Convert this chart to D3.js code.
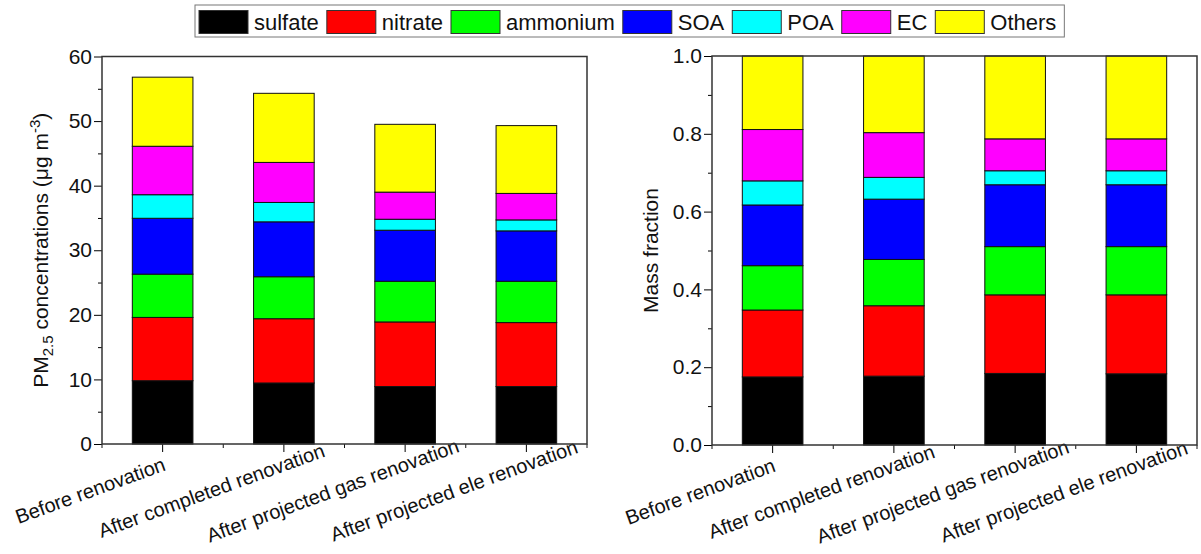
<!DOCTYPE html>
<html>
<head>
<meta charset="utf-8">
<script src="https://cdn.jsdelivr.net/npm/d3@7"></script>
<style>
  body { margin: 0; background: #fff; }
  svg { font-family: Arial, "Liberation Sans", sans-serif; }
</style>
</head>
<body>
<svg id="chart" width="1201" height="554"></svg>
<script>
// **** Data
const categories = ["Before renovation", "After completed renovation",
  "After projected gas renovation", "After projected ele renovation"];
const species = ["sulfate", "nitrate", "ammonium", "SOA", "POA", "EC", "Others"];
const colors = ["#000000", "#ff0000", "#00ff00", "#0000ff", "#00ffff", "#ff00ff", "#ffff00"];

// PM2.5 concentrations (ug m-3), one array per species
const concSulfate = [9.8, 9.45, 8.9, 8.9];
const concNitrate = [9.8, 9.95, 10.0, 9.9];
const concAmmonium = [6.7, 6.5, 6.3, 6.4];
const concSOA = [8.65, 8.5, 7.9, 7.8];
const concPOA = [3.65, 3.0, 1.7, 1.7];
const concEC = [7.5, 6.2, 4.2, 4.1];
const concOthers = [10.7, 10.7, 10.5, 10.5];

// Mass fractions
const fracSulfate = [0.175, 0.177, 0.184, 0.183];
const fracNitrate = [0.172, 0.181, 0.202, 0.203];
const fracAmmonium = [0.114, 0.119, 0.124, 0.124];
const fracSOA = [0.156, 0.155, 0.159, 0.159];
const fracPOA = [0.062, 0.056, 0.036, 0.036];
const fracEC = [0.132, 0.115, 0.082, 0.082];
const fracOthers = [0.189, 0.197, 0.213, 0.213];

const leftTicks = [0, 10, 20, 30, 40, 50, 60];
const rightTicks = [0, 0.2, 0.4, 0.6, 0.8, 1.0];

const concSeries = [concSulfate, concNitrate, concAmmonium, concSOA, concPOA, concEC, concOthers];
const fracSeries = [fracSulfate, fracNitrate, fracAmmonium, fracSOA, fracPOA, fracEC, fracOthers];

// build rows for d3.stack
function makeRows(series) {
  return categories.map((c, i) => {
    const row = { cat: c };
    species.forEach((s, j) => { row[s] = series[j][i]; });
    return row;
  });
}

const svg = d3.select("#chart");
const color = d3.scaleOrdinal().domain(species).range(colors);
const fontSize = 20;

// **** Panel drawer
function drawPanel(opts) {
  const { x0, x1, y0, y1, domain, ticks, minorStep, fmt, series, title, titleX } = opts;
  const g = svg.append("g");

  const x = d3.scaleBand().domain(categories).range([x0, x1]).paddingInner(0).paddingOuter(0);
  const y = d3.scaleLinear().domain(domain).range([y1, y0]);
  const barW = x.bandwidth() * 0.5;

  const stacked = d3.stack().keys(species)(makeRows(series));

  g.selectAll("g.layer")
    .data(stacked)
    .join("g")
    .attr("class", "layer")
    .attr("fill", d => color(d.key))
    .selectAll("rect")
    .data(d => d)
    .join("rect")
    .attr("x", d => x(d.data.cat) + (x.bandwidth() - barW) / 2)
    .attr("width", barW)
    .attr("y", d => y(d[1]))
    .attr("height", d => y(d[0]) - y(d[1]))
    .attr("stroke", "#111")
    .attr("stroke-width", 1);

  // minor y ticks
  const minor = d3.range(domain[0] + minorStep, domain[1], minorStep * 2);
  g.append("g")
    .attr("transform", `translate(${x0},0)`)
    .call(d3.axisLeft(y).tickValues(minor).tickSize(4).tickFormat("").tickSizeOuter(0))
    .call(a => a.select(".domain").remove());

  // major y ticks
  g.append("g")
    .attr("transform", `translate(${x0},0)`)
    .call(d3.axisLeft(y).tickValues(ticks).tickSize(8).tickPadding(2).tickFormat(fmt).tickSizeOuter(0))
    .call(a => a.select(".domain").remove())
    .call(a => a.selectAll("text").attr("font-size", 21).attr("fill", "#111")
      .attr("font-family", "Arial, 'Liberation Sans', sans-serif"));

  // minor x ticks at band edges
  const edges = categories.map(c => x(c)).concat([x1]);
  g.append("g")
    .selectAll("line")
    .data(edges)
    .join("line")
    .attr("x1", d => d).attr("x2", d => d)
    .attr("y1", y1).attr("y2", y1 + 4)
    .attr("stroke", "#111");

  // major x ticks + rotated labels
  g.append("g")
    .attr("transform", `translate(0,${y1})`)
    .call(d3.axisBottom(x).tickSize(8).tickFormat("").tickSizeOuter(0))
    .call(a => a.select(".domain").remove());

  g.append("g")
    .selectAll("text")
    .data(categories)
    .join("text")
    .attr("transform", d => `translate(${x(d) + x.bandwidth() / 2 - 70},${y1 + 53}) rotate(-20)`)
    .attr("text-anchor", "middle")
    .attr("font-size", fontSize)
    .attr("fill", "#111")
    .text(d => d);

  // frame
  g.append("rect")
    .attr("x", x0).attr("y", y0)
    .attr("width", x1 - x0).attr("height", y1 - y0)
    .attr("fill", "none")
    .attr("stroke", "#333")
    .attr("stroke-width", 1.5);

  // y title
  const t = g.append("text")
    .attr("transform", `translate(${titleX},${(y0 + y1) / 2}) rotate(-90)`)
    .attr("text-anchor", "middle")
    .attr("font-size", 21)
    .attr("fill", "#111");
  title(t);
}

drawPanel({
  x0: 102, x1: 587, y0: 56.5, y1: 444,
  domain: [0, 60], ticks: leftTicks, minorStep: 5, fmt: d3.format("d"),
  series: concSeries, titleX: 48,
  title: t => {
    t.append("tspan").text("PM");
    t.append("tspan").attr("font-size", 15).attr("dy", 5).text("2.5");
    t.append("tspan").attr("dy", -5).text(" concentrations (\u03bcg m");
    t.append("tspan").attr("font-size", 15).attr("dy", -8).text("-3");
    t.append("tspan").attr("dy", 8).text(")");
  }
});

drawPanel({
  x0: 712, x1: 1197, y0: 56, y1: 445,
  domain: [0, 1], ticks: rightTicks, minorStep: 0.1, fmt: d3.format(".1f"),
  series: fracSeries, titleX: 658,
  title: t => t.text("Mass fraction")
});

// **** Legend
const legend = svg.append("g");
const swW = 49, swH = 23, lgTop = 5;
let cx = 199;
species.forEach((s, i) => {
  const it = legend.append("g");
  it.append("rect")
    .attr("x", cx).attr("y", lgTop + 5.5)
    .attr("width", swW).attr("height", swH)
    .attr("fill", colors[i])
    .attr("stroke", "#333").attr("stroke-width", 1);
  const txt = it.append("text")
    .attr("x", cx + swW + 6).attr("y", lgTop + 25)
    .attr("font-size", 22)
    .attr("fill", "#111")
    .text(s);
  cx += swW + 6 + txt.node().getComputedTextLength() + 8;
});
legend.insert("rect", ":first-child")
  .attr("x", 195).attr("y", lgTop)
  .attr("width", cx - 195).attr("height", 32)
  .attr("fill", "#fff")
  .attr("stroke", "#777").attr("stroke-width", 1);
</script>
</body>
</html>
